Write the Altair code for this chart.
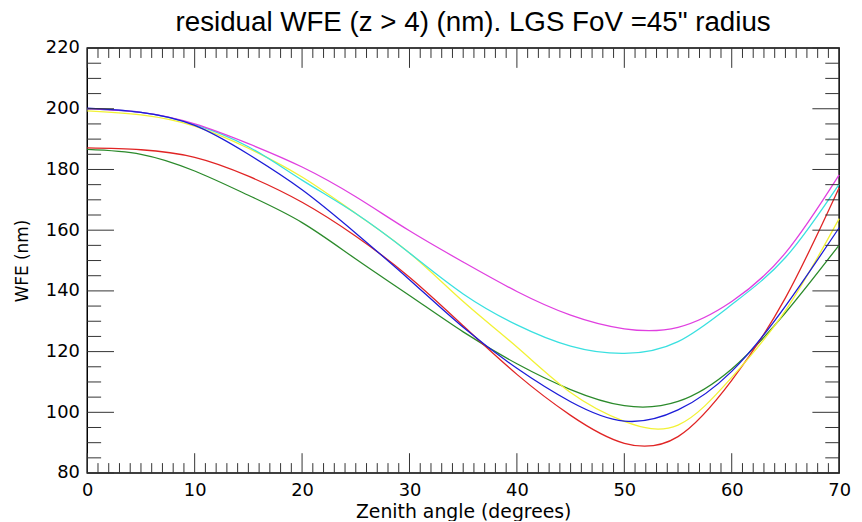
import altair as alt
import pandas as pd

# Zenith angle sample points (degrees)
angles = [0, 5, 10, 15, 20, 25, 30, 35, 40, 45, 50, 55, 60, 65, 70]

magenta = [200.0, 198.8, 195.0, 188.5, 180.8, 171.0, 159.8, 149.5, 139.8, 132.0, 127.5, 128.0, 136.5, 152.5, 178.2]
cyan    = [200.0, 198.8, 194.8, 187.5, 176.5, 165.5, 152.5, 139.0, 128.8, 121.8, 119.4, 123.3, 135.5, 151.0, 175.2]
yellow  = [199.3, 198.0, 194.3, 187.0, 177.5, 165.5, 152.5, 136.5, 121.5, 106.5, 97.0, 95.8, 111.5, 133.5, 163.8]
blue    = [200.2, 198.8, 194.5, 185.0, 173.3, 159.0, 143.7, 128.0, 114.5, 103.5, 97.1, 100.8, 113.5, 135.0, 160.8]
red     = [187.1, 186.5, 184.0, 177.8, 169.2, 158.0, 144.5, 128.5, 112.5, 99.0, 89.8, 92.0, 110.5, 137.7, 174.0]
green   = [186.6, 185.0, 179.5, 171.5, 162.5, 150.5, 138.5, 126.5, 116.0, 107.5, 102.2, 103.6, 114.3, 132.8, 155.1]

series_names = ["green", "red", "yellow", "cyan", "magenta", "blue"]
series_values = [green, red, yellow, cyan, magenta, blue]
series_colors = ["#2b8a2b", "#e02424", "#f2f235", "#3ae0e0", "#e040e0", "#1c1cd8"]

x_major = [0, 10, 20, 30, 40, 50, 60, 70]
x_minor = [v for v in range(0, 71) if v % 10 != 0]
y_major = [80, 100, 120, 140, 160, 180, 200, 220]
y_minor = [v for v in range(80, 221, 5) if v % 20 != 0]

title_text = 'residual WFE (z > 4) (nm). LGS FoV =45" radius'

rows = []
for name, vals in zip(series_names, series_values):
    for a, v in zip(angles, vals):
        rows.append({"angle": a, "wfe": v, "series": name})
df = pd.DataFrame(rows)

W, H = 759, 429
xscale = alt.Scale(domain=[0, 70], nice=False, zero=False)
yscale = alt.Scale(domain=[80, 220], nice=False, zero=False)

FONT = "DejaVu Sans"

xaxis = alt.Axis(values=x_major, ticks=False, domain=False, grid=False,
                 labelFont=FONT, labelFontSize=18, labelColor="black",
                 labelPadding=9, labelFlush=False, title="Zenith angle (degrees)",
                 titleFont=FONT, titleFontSize=19, titleFontWeight="normal",
                 titleColor="black", titlePadding=3)
yaxis = alt.Axis(values=y_major, ticks=False, domain=False, grid=False,
                 labelFont=FONT, labelFontSize=18, labelColor="black",
                 labelPadding=8, labelFlush=False, title="WFE (nm)",
                 titleFont=FONT, titleFontSize=17, titleFontWeight="normal",
                 titleColor="black", titlePadding=14)

lines = alt.Chart(df).mark_line(strokeWidth=1.3, interpolate="natural").encode(
    x=alt.X("angle:Q", scale=xscale, axis=xaxis, title="Zenith angle (degrees)"),
    y=alt.Y("wfe:Q", scale=yscale, axis=yaxis, title="WFE (nm)"),
    color=alt.Color("series:N", scale=alt.Scale(domain=series_names, range=series_colors), legend=None),
    order=alt.Order("angle:Q"),
)

xmin_df = pd.DataFrame({"angle": x_minor})
xmaj_df = pd.DataFrame({"angle": x_major})
ymin_df = pd.DataFrame({"wfe": y_minor})
ymaj_df = pd.DataFrame({"wfe": y_major})

tick_color = "#333333"

def xticks(data, length):
    bottom = alt.Chart(data).mark_rule(color=tick_color, strokeWidth=1).encode(
        x=alt.X("angle:Q", scale=xscale, axis=xaxis, title="Zenith angle (degrees)"),
        y=alt.value(H), y2=alt.value(H - length))
    top = alt.Chart(data).mark_rule(color=tick_color, strokeWidth=1).encode(
        x=alt.X("angle:Q", scale=xscale, axis=xaxis, title="Zenith angle (degrees)"),
        y=alt.value(0), y2=alt.value(length))
    return [bottom, top]

def yticks(data, length):
    left = alt.Chart(data).mark_rule(color=tick_color, strokeWidth=1).encode(
        y=alt.Y("wfe:Q", scale=yscale, axis=yaxis, title="WFE (nm)"),
        x=alt.value(0), x2=alt.value(length))
    right = alt.Chart(data).mark_rule(color=tick_color, strokeWidth=1).encode(
        y=alt.Y("wfe:Q", scale=yscale, axis=yaxis, title="WFE (nm)"),
        x=alt.value(W), x2=alt.value(W - length))
    return [left, right]

layers = ([lines] + xticks(xmin_df, 10) + xticks(xmaj_df, 20) +
          yticks(ymin_df, 14) + yticks(ymaj_df, 27))

chart = alt.layer(*layers).properties(
    width=W, height=H,
    padding={"left": 80, "top": 38, "right": 15, "bottom": 46},
    autosize=alt.AutoSizeParams(type="none"),
    title=alt.TitleParams(title_text, font="Liberation Sans", fontSize=28,
                          fontWeight="normal", color="black", anchor="middle",
                          offset=10, dx=10, dy=8),
).configure_view(stroke="black", strokeWidth=1.5)

chart.save("out.html", embed_options={"renderer": "svg", "actions": False})
